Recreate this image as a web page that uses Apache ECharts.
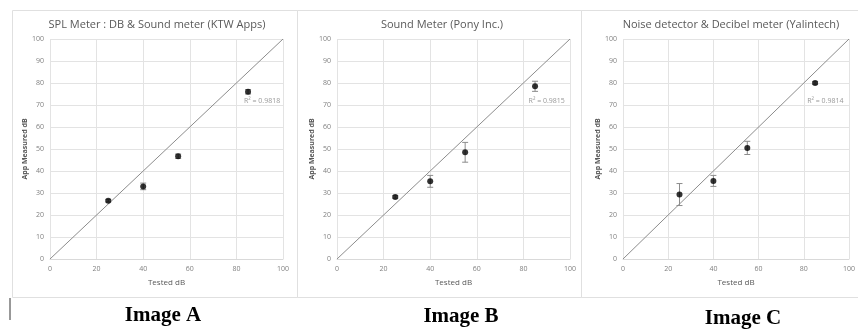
<!DOCTYPE html>
<html>
<head>
<meta charset="utf-8">
<script src="https://cdn.jsdelivr.net/npm/echarts@6/dist/echarts.min.js"></script>
<style>
  html, body { margin: 0; padding: 0; background: #fff; }
  #chart { width: 858px; height: 329px; }
</style>
</head>
<body>
<div id="chart"></div>
<script>
// tested levels and what each app measured
const testedDb = [25, 40, 55, 85];
const titles = [
  "SPL Meter : DB & Sound meter (KTW Apps)",
  "Sound Meter (Pony Inc.)",
  "Noise detector & Decibel meter (Yalintech)"
];
const measuredA = [26.5, 33, 46.7, 76];
const measuredB = [28.2, 35.3, 48.5, 78.5];
const measuredC = [29.3, 35.5, 50.5, 80];
// error bar half widths
const errA = [0.6, 1.5, 1.0, 1.0];
const errB = [0.6, 2.7, 4.5, 2.3];
const errC = [5.0, 2.5, 3.0, 0.6];
const r2Values = ["0.9818", "0.9815", "0.9814"];
const imageLabels = ["Image A", "Image B", "Image C"];
const diagonal = [[0, 0], [100, 100]];

const chart = echarts.init(document.getElementById("chart"));

const measured = [measuredA, measuredB, measuredC];
const errors = [errA, errB, errC];
const gridLeft = [50, 337, 623];
const gridWidth = 233;
const r2Pos = [[91, 72], [90, 72], [89.5, 72]];

const grids = [], xAxes = [], yAxes = [], series = [], titleList = [];
const titleCenter = [152, 437, 726];

for (let i = 0; i < 3; i++) {
  grids.push({ left: gridLeft[i], width: gridWidth, top: 39, height: 220 });
  xAxes.push({
    gridIndex: i, type: "value", min: 0, max: 100, interval: 20,
    name: "Tested dB", nameLocation: "middle", nameGap: 20,
    nameTextStyle: { color: "#595959", fontSize: 8, fontFamily: "Open Sans" },
    axisLine: { show: true, lineStyle: { color: "#d9d9d9" } },
    axisTick: { show: false },
    axisLabel: { color: "#808080", fontSize: 7, margin: 6, fontFamily: "Open Sans" },
    splitLine: { show: true, lineStyle: { color: "#e3e3e3" } }
  });
  yAxes.push({
    gridIndex: i, type: "value", min: 0, max: 100, interval: 10,
    name: "App Measured dB", nameLocation: "middle", nameGap: 21, nameRotate: 90,
    nameTextStyle: { color: "#595959", fontSize: 7, fontWeight: "bold", fontFamily: "Open Sans" },
    axisLine: { show: false },
    axisTick: { show: false },
    axisLabel: { color: "#808080", fontSize: 7, margin: 6, fontFamily: "Open Sans" },
    splitLine: { show: true, lineStyle: { color: "#e3e3e3" } }
  });
  titleList.push({
    text: titles[i], left: titleCenter[i], top: 14, textAlign: "center",
    textStyle: { color: "#595959", fontSize: 11, fontWeight: "normal", fontFamily: "Open Sans" }
  });

  // y = x reference line
  series.push({
    type: "line", xAxisIndex: i, yAxisIndex: i, data: diagonal,
    symbol: "none", silent: true,
    lineStyle: { color: "#8c8c8c", width: 1 }
  });

  // error bars
  series.push({
    type: "custom", xAxisIndex: i, yAxisIndex: i,
    data: testedDb.map((x, k) => [x, measured[i][k] - errors[i][k], measured[i][k] + errors[i][k]]),
    renderItem: function (params, api) {
      const lo = api.coord([api.value(0), api.value(1)]);
      const hi = api.coord([api.value(0), api.value(2)]);
      const cap = 3;
      const style = { stroke: "#8c8c8c", lineWidth: 1 };
      return {
        type: "group",
        children: [
          { type: "line", shape: { x1: lo[0], y1: lo[1], x2: hi[0], y2: hi[1] }, style: style },
          { type: "line", shape: { x1: lo[0] - cap, y1: lo[1], x2: lo[0] + cap, y2: lo[1] }, style: style },
          { type: "line", shape: { x1: hi[0] - cap, y1: hi[1], x2: hi[0] + cap, y2: hi[1] }, style: style }
        ]
      };
    },
    z: 3
  });

  // measured points
  series.push({
    type: "scatter", xAxisIndex: i, yAxisIndex: i,
    data: testedDb.map((x, k) => [x, measured[i][k]]),
    symbolSize: 6,
    itemStyle: { color: "#000" },
    z: 4
  });

  // R² label
  series.push({
    type: "scatter", xAxisIndex: i, yAxisIndex: i,
    data: [r2Pos[i]], symbolSize: 0, silent: true,
    label: {
      show: true, position: "inside",
      formatter: "R² = " + r2Values[i],
      color: "#808080", fontSize: 7, fontFamily: "Open Sans"
    }
  });
}

const graphics = [];
// panel frames
[[10, 285], [295, 284], [579, 290]].forEach(function (p) {
  graphics.push({
    type: "rect", left: p[0], top: 8, silent: true,
    shape: { width: p[1], height: 287 },
    style: { fill: "none", stroke: "#e0e0e0", lineWidth: 1 }
  });
});
// captions under the panels
const captionX = [163, 461, 743];
const captionY = [316, 317, 319];
imageLabels.forEach(function (t, i) {
  graphics.push({
    type: "text", x: captionX[i], y: captionY[i],
    style: {
      text: t, fill: "#000", align: "center", verticalAlign: "middle",
      font: "bold 21px 'Liberation Serif'"
    }
  });
});
graphics.push({
  type: "line", shape: { x1: 10, y1: 298, x2: 10, y2: 320 },
  style: { stroke: "#333", lineWidth: 1 }
});

chart.setOption({
  animation: false,
  backgroundColor: "#fff",
  title: titleList,
  grid: grids,
  xAxis: xAxes,
  yAxis: yAxes,
  series: series,
  graphic: graphics
});
</script>
</body>
</html>
